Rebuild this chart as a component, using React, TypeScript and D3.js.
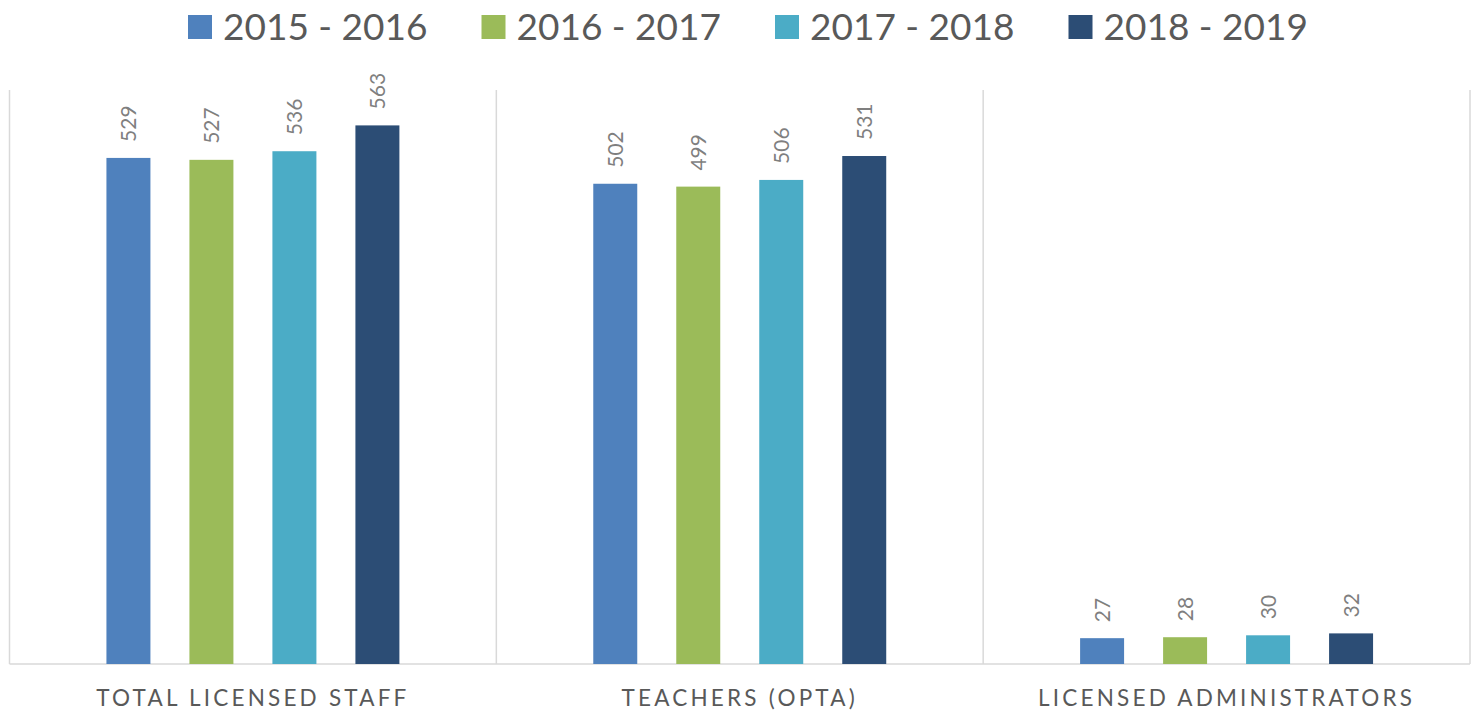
import React from "react";
import * as d3 from "d3";

const categories = ["TOTAL LICENSED STAFF", "TEACHERS (OPTA)", "LICENSED ADMINISTRATORS"];
const seriesNames = ["2015 - 2016", "2016 - 2017", "2017 - 2018", "2018 - 2019"];
const s2015 = [529, 502, 27];
const s2016 = [527, 499, 28];
const s2017 = [536, 506, 30];
const s2018 = [563, 531, 32];
const seriesValues = [s2015, s2016, s2017, s2018];
const colors = ["#4f81bd", "#9bbb59", "#4bacc6", "#2c4d75"];
const yMax = 600;

const W = 1475, H = 713;
const left = 9.5, right = 1470, top = 90, bottom = 664;
const font = "Lato, 'Open Sans', sans-serif";

export default function App() {
  const x0 = d3.scaleBand<string>().domain(categories).range([left, right]).padding(0);
  const x1 = d3.scaleBand<string>().domain(seriesNames).range([0, x0.bandwidth()]).paddingInner(0.47).paddingOuter(1.168);
  const y = d3.scaleLinear().domain([0, yMax]).range([bottom, top]);
  const legendStart = 188, legendStep = 293.5;
  return (
    <svg width={W} height={H} style={{ position: "absolute", left: 0, top: 0 }}>
      <rect width={W} height={H} fill="#fff" />
      {/* legend */}
      {seriesNames.map((s, i) => (
        <g key={s} transform={`translate(${legendStart + i * legendStep},15)`}>
          <rect width={24} height={24} fill={colors[i]} />
          <text x={35} y={24.5} fontFamily={font} fontSize={37} fill="#595959">
            {s}
          </text>
        </g>
      ))}
      {/* grid */}
      {[...categories.map((c) => x0(c)!), right].map((xv, i) => (
        <line key={i} x1={xv} x2={xv} y1={top} y2={bottom} stroke="#d9d9d9" strokeWidth={1.5} />
      ))}
      <line x1={left} x2={right} y1={bottom} y2={bottom} stroke="#d9d9d9" strokeWidth={1.5} />
      {/* bars */}
      {categories.map((c, ci) => (
        <g key={c} transform={`translate(${x0(c)},0)`}>
          {seriesNames.map((s, si) => {
            const v = seriesValues[si][ci];
            const bx = x1(s)!;
            const bw = x1.bandwidth();
            return (
              <g key={s}>
                <rect x={bx} y={y(v)} width={bw} height={bottom - y(v)} fill={colors[si]} />
                <text
                  transform={`translate(${bx + bw / 2},${y(v) - 16}) rotate(-90)`}
                  dy="0.36em"
                  fontFamily={font}
                  fontSize={21}
                  fill="#7f7f7f"
                >
                  {v}
                </text>
              </g>
            );
          })}
          <text x={x0.bandwidth() / 2} y={706} textAnchor="middle" fontFamily={font} fontSize={22.5} letterSpacing={3.2} fill="#595959">
            {c}
          </text>
        </g>
      ))}
    </svg>
  );
}
